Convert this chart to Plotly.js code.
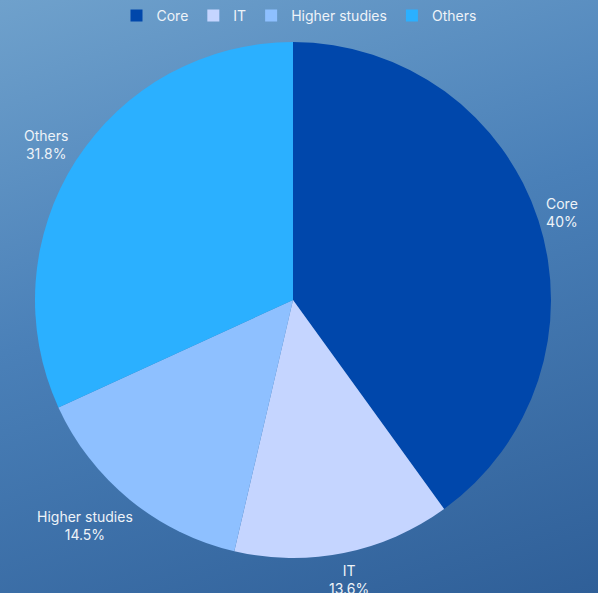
<!DOCTYPE html>
<html>
<head>
<meta charset="utf-8">
<script src="https://cdn.plot.ly/plotly-3.0.1.min.js"></script>
<style>
html,body{margin:0;padding:0;width:598px;height:593px;overflow:hidden;}
body{background:linear-gradient(162deg,#6fa1cc 0%,#4a80b8 45%,#2f5f98 100%);}
#chart{width:598px;height:593px;}
</style>
</head>
<body>
<div id="chart"></div>
<script>
const categories = ["Core", "IT", "Higher studies", "Others"];
const values = [40, 13.6, 14.5, 31.8];
const percentLabels = ["40%", "13.6%", "14.5%", "31.8%"];
const colors = ["#0047ab", "#c5d5ff", "#8ec0ff", "#2bb0ff"];

const W = 598, H = 593;
const M = {l: 0, r: 12, t: 42, b: 35};
const FONT = "Inter, Open Sans, sans-serif";
const FS = 14;
const TXT = "#eef3f8";

const plotW = W - M.l - M.r, plotH = H - M.t - M.b;
const R = Math.min(plotW, plotH) / 2;
const cx = plotW / 2, cy = plotH / 2;

// measure label widths
const cv = document.createElement("canvas").getContext("2d");
cv.font = FS + "px Inter";

const total = values.reduce((a, b) => a + b, 0);
let cum = 0;
const annotations = categories.map((c, i) => {
  const mid = (cum + values[i] / 2) / total;
  cum += values[i];
  const ang = mid * 2 * Math.PI;
  const vx = Math.sin(ang), vy = -Math.cos(ang);
  const w = Math.max(cv.measureText(c).width, cv.measureText(percentLabels[i]).width) + 8;
  const h = 2 * FS * 1.3 + 8;
  const vs = 1 / Math.max(Math.abs(vx), Math.abs(vy));
  const off = 4;
  const px = cx + R * vx + (w / 2) * vx * vs + off * vx;
  const py = cy + R * vy + (h / 2) * vy * vs + off * vy;
  return {
    xref: "paper", yref: "paper",
    x: px / plotW, y: 1 - py / plotH,
    xanchor: "center", yanchor: "middle",
    text: c + "<br>" + percentLabels[i],
    showarrow: false, align: "center",
    font: {family: FONT, size: FS, color: TXT}
  };
});

const trace = {
  type: "pie",
  labels: categories,
  values: values,
  sort: false,
  direction: "clockwise",
  rotation: 0,
  marker: {colors: colors, line: {width: 0}},
  textinfo: "none",
  hoverinfo: "label+percent",
  automargin: false
};

const layout = {
  width: W,
  height: H,
  margin: M,
  paper_bgcolor: "rgba(0,0,0,0)",
  plot_bgcolor: "rgba(0,0,0,0)",
  showlegend: true,
  annotations: annotations,
  legend: {
    orientation: "h",
    xref: "container", yref: "container",
    x: 0.5, xanchor: "center",
    y: 1, yanchor: "top",
    font: {family: FONT, size: 14, color: TXT},
    traceorder: "normal"
  },
  font: {family: FONT}
};

Plotly.newPlot("chart", [trace], layout, {displayModeBar: false, staticPlot: true});
</script>
</body>
</html>
